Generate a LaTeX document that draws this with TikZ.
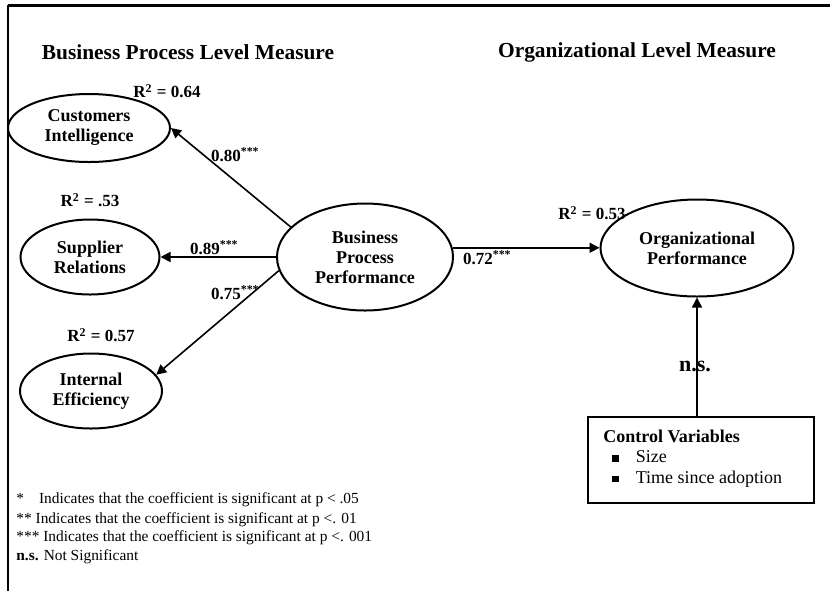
\documentclass[tikz,border=0pt]{standalone}
\usepackage{fontspec}
\setmainfont{Liberation Serif}
\usetikzlibrary{shapes.geometric,arrows.meta}

\begin{document}
\begin{tikzpicture}[x=0.5pt, y=-0.5pt,
    construct/.style={draw, ellipse, line width=1pt, inner sep=0pt, align=center,
      font=\fontsize{9}{10}\selectfont\bfseries},
    link/.style={-{Triangle[length=5pt,width=5pt]}, line width=0.8pt},
    rsq/.style={font=\fontsize{8.5}{10}\selectfont\bfseries},
    coef/.style={anchor=west, font=\fontsize{8.5}{10}\selectfont\bfseries},
    heading/.style={font=\fontsize{10.7}{12}\selectfont\bfseries},
    legend/.style={anchor=west, inner sep=0pt, font=\fontsize{7.7}{9}\selectfont},
    item/.style={anchor=west, inner sep=0pt, font=\fontsize{9}{10}\selectfont}]
  \useasboundingbox (0,0) rectangle (830,591);
  \draw[line width=1.5pt] (8,5) -- (830,5);
  \draw[line width=1pt] (8,5) -- (8,591);

  \node[heading] (hbp) at (188,52) {Business Process Level Measure};
  \node[heading] (hol) at (637,52) {Organizational Level Measure};

  \node[construct, minimum width=81pt, minimum height=34pt] (ci) at (89,128) {Customers\\Intelligence};
  \node[construct, minimum width=69.5pt, minimum height=37.5pt] (sr) at (90,257) {Supplier\\Relations};
  \node[construct, minimum width=71pt, minimum height=37.5pt] (ie) at (91,391) {Internal\\Efficiency};
  \node[construct, minimum width=88pt, minimum height=53.5pt] (bpp) at (365,257) {Business\\Process\\Performance};
  \node[construct, minimum width=96.5pt, minimum height=48.5pt] (op) at (697,248) {Organizational\\Performance};

  \node[draw, line width=0.8pt, minimum width=113pt, minimum height=43pt, inner sep=0pt] (ctrl) at (701,460) {};
  \node[item, font=\fontsize{9}{10}\selectfont\bfseries] (ctitle) at (603,436) {Control Variables};
  \node[item] (csize) at (612,457) {\rule[0.5pt]{3.2pt}{3.2pt}\hspace{8.5pt}Size};
  \node[item] (ctime) at (612,479) {\rule[0.5pt]{3.2pt}{3.2pt}\hspace{8.5pt}Time since adoption};

  \node[rsq] (rci) at (167,91) {R\textsuperscript{2} = 0.64};
  \node[rsq] (rsr) at (90,200) {R\textsuperscript{2} = .53};
  \node[rsq] (rie) at (101,335) {R\textsuperscript{2} = 0.57};
  \node[rsq] (rop) at (592,213) {R\textsuperscript{2} = 0.53};

  \node[coef] (cci) at (204,155) {0.80\textsuperscript{***}};
  \node[coef] (csr) at (183,248) {0.89\textsuperscript{***}};
  \node[coef] (cie) at (204,293) {0.75\textsuperscript{***}};
  \node[coef] (cop) at (456,258) {0.72\textsuperscript{***}};
  \node[font=\fontsize{11}{12}\selectfont\bfseries] (ns) at (695,366) {n.s.};

  \draw[link] (bpp.158) -- (ci.east);
  \draw[link] (bpp.west) -- (sr.east);
  \draw[link] (bpp.189) -- (ie.14);
  \draw[link] (bpp.6) -- (bpp.6 -| op.west);
  \draw[link] (ctrl.north -| op.south) -- (op.south);

  \node[legend] (l1) at (16,500) {*\hspace{7.5pt}Indicates that the coefficient is significant at p < .05};
  \node[legend] (l2) at (16,520) {** Indicates that the coefficient is significant at p <. 01};
  \node[legend] (l3) at (16,538) {*** Indicates that the coefficient is significant at p <. 001};
  \node[legend] (l4) at (16,557) {\textbf{n.s.} Not Significant};
\end{tikzpicture}
\end{document}
